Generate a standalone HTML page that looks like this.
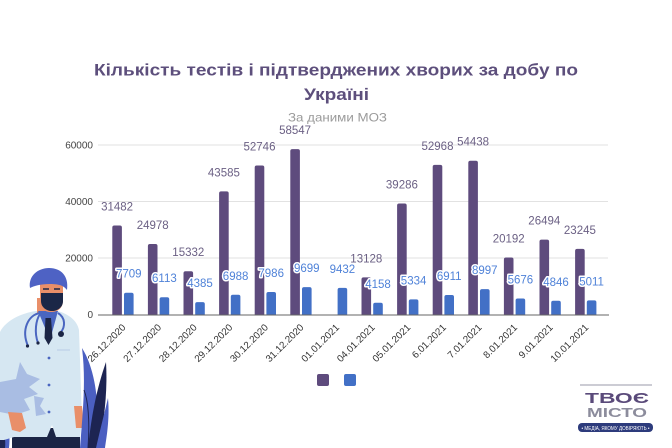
<!DOCTYPE html>
<html><head><meta charset="utf-8"><style>
html,body{margin:0;padding:0;background:#fff;}
svg{display:block;}
text{font-family:"Liberation Sans","Noto Sans CJK SC",sans-serif;}
</style></head><body>
<svg width="672" height="448" viewBox="0 0 672 448" xmlns="http://www.w3.org/2000/svg">
<rect width="672" height="448" fill="#fff"/>
<defs><clipPath id="c"><rect x="0" y="0" width="672" height="314.5"/></clipPath></defs>

<!-- Title -->
<text x="336" y="75.5" text-anchor="middle" font-size="17" font-weight="bold" fill="#5d4f7c" textLength="484" lengthAdjust="spacingAndGlyphs">Кількість тестів і підтверджених хворих за добу по</text>
<text x="336.5" y="100" text-anchor="middle" font-size="17" font-weight="bold" fill="#5d4f7c" textLength="65" lengthAdjust="spacingAndGlyphs">Україні</text>
<text x="337.5" y="121.5" text-anchor="middle" font-size="12" fill="#9a9a9a" textLength="99" lengthAdjust="spacingAndGlyphs">За даними МОЗ</text>

<!-- Grid -->
<g stroke="#e2e2e2" stroke-width="1">
<line x1="98" y1="145" x2="608" y2="145"/>
<line x1="98" y1="201.5" x2="608" y2="201.5"/>
<line x1="98" y1="258" x2="608" y2="258"/>
</g>
<g font-size="10" fill="#444" text-anchor="end">
<text x="93" y="148.5">60000</text>
<text x="93" y="205">40000</text>
<text x="93" y="261.5">20000</text>
<text x="93" y="318">0</text>
</g>

<!-- Bars -->
<g clip-path="url(#c)">
<g fill="#5e4b7d">
<rect x="112.3" y="225.56" width="9.6" height="95" rx="2"/>
<rect x="147.9" y="243.94" width="9.6" height="95" rx="2"/>
<rect x="183.5" y="271.19" width="9.6" height="95" rx="2"/>
<rect x="219.1" y="191.37" width="9.6" height="150" rx="2"/>
<rect x="254.7" y="165.49" width="9.6" height="155" rx="2"/>
<rect x="290.3" y="149.10" width="9.6" height="170" rx="2"/>
<rect x="361.5" y="277.41" width="9.6" height="95" rx="2"/>
<rect x="397.1" y="203.52" width="9.6" height="150" rx="2"/>
<rect x="432.7" y="164.87" width="9.6" height="155" rx="2"/>
<rect x="468.3" y="160.71" width="9.6" height="160" rx="2"/>
<rect x="503.9" y="257.46" width="9.6" height="95" rx="2"/>
<rect x="539.5" y="239.65" width="9.6" height="95" rx="2"/>
<rect x="575.1" y="248.83" width="9.6" height="95" rx="2"/>
</g>
<g fill="#4270c6">
<rect x="124.0" y="292.72" width="9.6" height="40" rx="2"/>
<rect x="159.6" y="297.23" width="9.6" height="40" rx="2"/>
<rect x="195.2" y="302.11" width="9.6" height="40" rx="2"/>
<rect x="230.8" y="294.76" width="9.6" height="40" rx="2"/>
<rect x="266.4" y="291.94" width="9.6" height="40" rx="2"/>
<rect x="302.0" y="287.10" width="9.6" height="40" rx="2"/>
<rect x="337.6" y="287.85" width="9.6" height="40" rx="2"/>
<rect x="373.2" y="302.75" width="9.6" height="40" rx="2"/>
<rect x="408.8" y="299.43" width="9.6" height="40" rx="2"/>
<rect x="444.4" y="294.98" width="9.6" height="40" rx="2"/>
<rect x="480.0" y="289.08" width="9.6" height="40" rx="2"/>
<rect x="515.6" y="298.47" width="9.6" height="40" rx="2"/>
<rect x="551.2" y="300.81" width="9.6" height="40" rx="2"/>
<rect x="586.8" y="300.34" width="9.6" height="40" rx="2"/>
</g>
</g>
<line x1="98" y1="315" x2="609" y2="315" stroke="#666" stroke-width="1"/>

<!-- Purple labels -->
<g font-size="11.5" fill="#6b6084" text-anchor="middle">
<text x="117.1" y="210.6">31482</text>
<text x="152.7" y="228.9">24978</text>
<text x="188.3" y="256.2">15332</text>
<text x="223.9" y="176.4">43585</text>
<text x="259.5" y="150.5">52746</text>
<text x="295.1" y="134.1">58547</text>
<text x="366.3" y="262.4">13128</text>
<text x="401.9" y="188.5">39286</text>
<text x="437.5" y="149.9">52968</text>
<text x="473.1" y="145.7">54438</text>
<text x="508.7" y="242.5">20192</text>
<text x="544.3" y="224.7">26494</text>
<text x="579.9" y="233.8">23245</text>
</g>
<!-- Blue labels -->
<g font-size="11.5" fill="#4f82d8" text-anchor="middle" stroke="#fff" stroke-width="3" paint-order="stroke" stroke-linejoin="round">
<text x="128.8" y="277.7">7709</text>
<text x="164.4" y="282.2">6113</text>
<text x="200.0" y="287.1">4385</text>
<text x="235.6" y="279.8">6988</text>
<text x="271.2" y="276.9">7986</text>
<text x="306.8" y="272.1">9699</text>
<text x="342.4" y="272.9">9432</text>
<text x="378.0" y="287.8">4158</text>
<text x="413.6" y="284.4">5334</text>
<text x="449.2" y="280.0">6911</text>
<text x="484.8" y="274.1">8997</text>
<text x="520.4" y="283.5">5676</text>
<text x="556.0" y="285.8">4846</text>
<text x="591.6" y="285.3">5011</text>
</g>

<!-- Doctor illustration -->
<g>
<!-- left plants -->
<path d="M0,398 C7,412 11,430 9,448 L0,448 Z" fill="#4b5fc1"/>
<path d="M0,420 C4,430 6,440 5,448 L0,448 Z" fill="#1d2452"/>
<!-- pants -->
<rect x="12" y="428" width="68" height="20" fill="#1b2545"/>
<!-- coat -->
<path d="M0,332 C6,320 22,313 36,311 L58,311 C68,314 77,320 79,330 L82,420 L80,437 L56,437 L52,425 L47,437 L14,437 L4,440 L0,440 Z" fill="#d6e7f2"/>
<!-- coat shadow -->
<path d="M0,382 L16,379 L20,362 L27,374 L40,379 L29,387 L38,394 L24,399 L30,410 L15,415 L0,412 Z" fill="#a9bde3"/>
<path d="M34,396 L44,398 L40,406 L46,414 L36,416 Z" fill="#a9bde3"/>
<!-- neck + shirt + tie -->
<rect x="37" y="298" width="19" height="16" fill="#e98f69"/>
<path d="M38,311 L58,311 L50,340 Z" fill="#4a66c0"/>
<path d="M45.5,318 L51,318 L52.5,338 L48.5,345 L44.5,338 Z" fill="#1b2545"/>
<!-- stethoscope -->
<path d="M28,346 C21,330 28,315 40,313" fill="none" stroke="#4a66c0" stroke-width="2"/>
<path d="M38,343 C34,332 36,320 40,314" fill="none" stroke="#4a66c0" stroke-width="2"/>
<path d="M58,313 C66,318 65,327 61,332" fill="none" stroke="#4a66c0" stroke-width="2"/>
<circle cx="61" cy="334" r="3" fill="#1b2545"/>
<circle cx="27.5" cy="346" r="1.6" fill="#1b2545"/>
<circle cx="38" cy="343" r="1.6" fill="#1b2545"/>
<!-- pocket -->
<path d="M57,350 L70,350" stroke="#b8cbe6" stroke-width="1"/>
<!-- buttons -->
<circle cx="49" cy="358" r="1.4" fill="#4a66c0"/>
<circle cx="49" cy="385" r="1.4" fill="#4a66c0"/>
<circle cx="49" cy="412" r="1.4" fill="#4a66c0"/>
<!-- hands -->
<path d="M8,412 L22,413 L26,428 L20,432 L12,430 Z" fill="#e98f69"/>
<path d="M74,406 L82,406 L84,428 L76,428 Z" fill="#e98f69"/>
<!-- head -->
<path d="M40,284 L63,284 L63,300 C63,308 58,312 51,312 C44,312 40,308 40,300 Z" fill="#e98f69"/>
<path d="M30,288 C28,276 38,268 49,268 C61,268 69,276 67,290 C64,286 60,284 50,284 C40,284 34,286 30,288 Z" fill="#4e62c4"/>
<path d="M41,293 L63,293 L63,301 C63,307 58,311 52,311 C46,311 41,307 41,301 Z" fill="#1b2747"/>
<path d="M43,289 L49,289 M54,289 L60,289" stroke="#1b2747" stroke-width="1.5"/>
<!-- right plants -->
<path d="M80,448 C83,410 86,380 82,348 C96,370 101,410 95,448 Z" fill="#4b5fc1"/>
<path d="M88,448 C92,410 98,385 106,362 C108,395 103,425 99,448 Z" fill="#1d2452"/>
<path d="M96,448 C100,430 104,415 108,398 C110,420 106,440 105,448 Z" fill="#4b5fc1"/>
<path d="M84,390 C88,400 90,420 88,448" stroke="#1d2452" stroke-width="1" fill="none"/>
</g>

<!-- X labels -->
<g font-size="9.8" fill="#333" text-anchor="end">
<text transform="translate(126.3,328) rotate(-45)">26.12.2020</text>
<text transform="translate(161.9,328) rotate(-45)">27.12.2020</text>
<text transform="translate(197.5,328) rotate(-45)">28.12.2020</text>
<text transform="translate(233.1,328) rotate(-45)">29.12.2020</text>
<text transform="translate(268.7,328) rotate(-45)">30.12.2020</text>
<text transform="translate(304.3,328) rotate(-45)">31.12.2020</text>
<text transform="translate(339.9,328) rotate(-45)">01.01.2021</text>
<text transform="translate(375.5,328) rotate(-45)">04.01.2021</text>
<text transform="translate(411.1,328) rotate(-45)">05.01.2021</text>
<text transform="translate(446.7,328) rotate(-45)">6.01.2021</text>
<text transform="translate(482.3,328) rotate(-45)">7.01.2021</text>
<text transform="translate(517.9,328) rotate(-45)">8.01.2021</text>
<text transform="translate(553.5,328) rotate(-45)">9.01.2021</text>
<text transform="translate(589.1,328) rotate(-45)">10.01.2021</text>
</g>

<!-- Legend -->
<rect x="317" y="374" width="12" height="12" rx="2" fill="#5e4b7d"/>
<rect x="344" y="374" width="12" height="12" rx="2" fill="#4270c6"/>

<!-- Logo -->
<line x1="580" y1="385" x2="652" y2="385" stroke="#9a9aa8" stroke-width="1"/>
<text x="617" y="403" text-anchor="middle" font-size="15" font-weight="bold" fill="#5a4a7a" textLength="64" lengthAdjust="spacingAndGlyphs">ТВОЄ</text>
<text x="617" y="417" text-anchor="middle" font-size="12.5" font-weight="bold" fill="#8c8c9c" textLength="60" lengthAdjust="spacingAndGlyphs">МІСТО</text>
<rect x="578" y="423" width="75" height="9" rx="4" fill="#2d3b7c"/>
<text x="615.5" y="430" text-anchor="middle" font-size="5.5" fill="#fff" textLength="68" lengthAdjust="spacingAndGlyphs">• МЕДІА, ЯКОМУ ДОВІРЯЮТЬ •</text>
</svg>
</body></html>
